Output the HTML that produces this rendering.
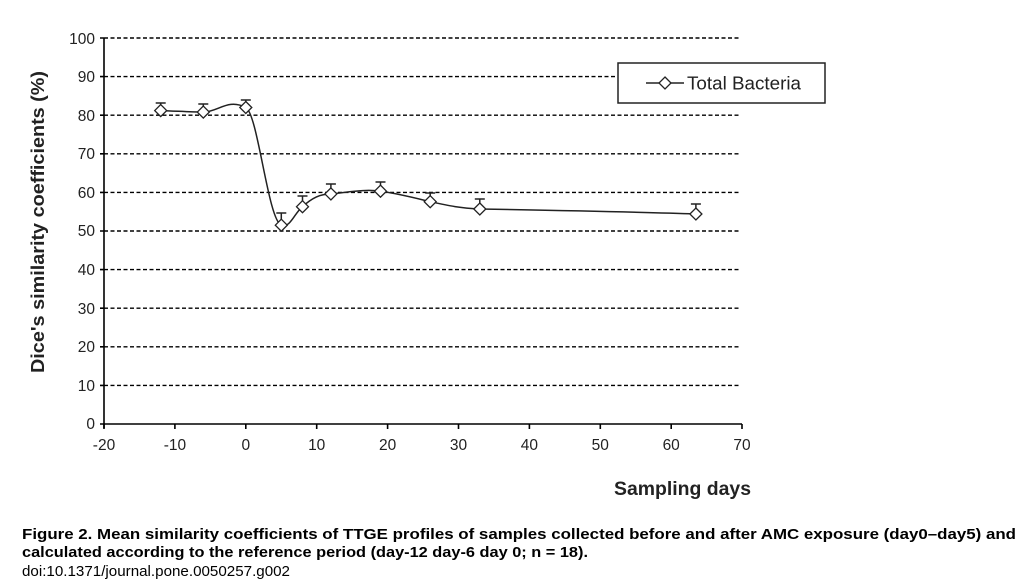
<!DOCTYPE html>
<html><head><meta charset="utf-8"><style>
html,body{margin:0;padding:0;background:#fff;}
svg{display:block;}
</style></head><body>
<svg width="1036" height="586" viewBox="0 0 1036 586" xmlns="http://www.w3.org/2000/svg" font-family="Liberation Sans, sans-serif">
<rect width="1036" height="586" fill="#fff"/>
<g stroke="#000" stroke-width="1.4" stroke-dasharray="4,2.5">
<line x1="104" y1="38" x2="740" y2="38"/>
<line x1="104" y1="76.6" x2="740" y2="76.6"/>
<line x1="104" y1="115.2" x2="740" y2="115.2"/>
<line x1="104" y1="153.8" x2="740" y2="153.8"/>
<line x1="104" y1="192.4" x2="740" y2="192.4"/>
<line x1="104" y1="231" x2="740" y2="231"/>
<line x1="104" y1="269.6" x2="740" y2="269.6"/>
<line x1="104" y1="308.2" x2="740" y2="308.2"/>
<line x1="104" y1="346.8" x2="740" y2="346.8"/>
<line x1="104" y1="385.4" x2="740" y2="385.4"/>
</g>
<g stroke="#000" stroke-width="1.6" fill="none">
<line x1="104" y1="38" x2="104" y2="428"/>
<line x1="100" y1="424" x2="742" y2="424"/>
<path d="M100 38h4M100 76.6h4M100 115.2h4M100 153.8h4M100 192.4h4M100 231h4M100 269.6h4M100 308.2h4M100 346.8h4M100 385.4h4"/>
<path d="M104 424v5M174.9 424v5M245.8 424v5M316.7 424v5M387.6 424v5M458.5 424v5M529.4 424v5M600.3 424v5M671.2 424v5M742 424v5"/>
</g>
<g font-size="15.5" fill="#222" text-anchor="end">
<text x="95" y="44">100</text><text x="95" y="82">90</text><text x="95" y="121">80</text>
<text x="95" y="159">70</text><text x="95" y="198">60</text><text x="95" y="236">50</text>
<text x="95" y="275">40</text><text x="95" y="314">30</text><text x="95" y="352">20</text>
<text x="95" y="391">10</text><text x="95" y="429">0</text>
</g>
<g font-size="15.5" fill="#222" text-anchor="middle">
<text x="104" y="450">-20</text><text x="174.9" y="450">-10</text><text x="245.8" y="450">0</text>
<text x="316.7" y="450">10</text><text x="387.6" y="450">20</text><text x="458.5" y="450">30</text>
<text x="529.4" y="450">40</text><text x="600.3" y="450">50</text><text x="671.2" y="450">60</text>
<text x="742" y="450">70</text>
</g>
<text x="614" y="495" font-size="19" font-weight="bold" fill="#222" textLength="137" lengthAdjust="spacingAndGlyphs">Sampling days</text>
<text transform="translate(44,373) rotate(-90)" font-size="18.5" font-weight="bold" fill="#222" textLength="302" lengthAdjust="spacingAndGlyphs">Dice's similarity coefficients  (%)</text>
<g stroke="#222" stroke-width="1.5" fill="none">
<path d="M160.7,110.6 C175,111 190,112 203.3,112.1 C218,112 228,98 245.8,107.5 C258,114 268,220 281.3,225.2 C290,229 295,212 302.5,206.7 C312,198 320,194 330.9,193.9 C350,192 365,189 380.5,191.2 C400,194 415,198 430.2,201.7 C450,206 460,208 479.8,209 C560,210.5 640,212 695.9,214"/>
<path d="M160.7,110.6V103M155.7,103h10 M203.3,112.1V104M198.3,104h10 M245.8,107.5V100M240.8,100h10 M281.3,225.2V213M276.3,213h10 M302.5,206.7V196M297.5,196h10 M330.9,193.9V184M325.9,184h10 M380.5,191.2V182M375.5,182h10 M430.2,201.7V193M425.2,193h10 M479.8,209V199M474.8,199h10 M695.9,214V204M690.9,204h10"/>
</g>
<g stroke="#222" stroke-width="1.3" fill="#fff">
<path d="M160.7,104.6l6,6l-6,6l-6,-6z"/>
<path d="M203.3,106.1l6,6l-6,6l-6,-6z"/>
<path d="M245.8,101.5l6,6l-6,6l-6,-6z"/>
<path d="M281.3,219.2l6,6l-6,6l-6,-6z"/>
<path d="M302.5,200.7l6,6l-6,6l-6,-6z"/>
<path d="M330.9,187.9l6,6l-6,6l-6,-6z"/>
<path d="M380.5,185.2l6,6l-6,6l-6,-6z"/>
<path d="M430.2,195.7l6,6l-6,6l-6,-6z"/>
<path d="M479.8,203l6,6l-6,6l-6,-6z"/>
<path d="M695.9,208l6,6l-6,6l-6,-6z"/>
</g>
<rect x="618" y="63" width="207" height="40" fill="#fff" stroke="#222" stroke-width="1.5"/>
<line x1="646" y1="83" x2="684" y2="83" stroke="#222" stroke-width="1.5"/>
<path d="M665,77l6,6l-6,6l-6,-6z" fill="#fff" stroke="#222" stroke-width="1.3"/>
<text x="687" y="89.5" font-size="18" fill="#222" textLength="114" lengthAdjust="spacingAndGlyphs">Total Bacteria</text>
<g font-weight="bold" font-size="15" fill="#000">
<text x="22" y="539" textLength="994" lengthAdjust="spacingAndGlyphs">Figure 2. Mean similarity coefficients of TTGE profiles of samples collected before and after AMC exposure (day0–day5) and</text>
<text x="22" y="557" textLength="566" lengthAdjust="spacingAndGlyphs">calculated according to the reference period (day-12 day-6 day 0; n = 18).</text>
</g>
<text x="22" y="576" font-size="14.5" fill="#000" textLength="268" lengthAdjust="spacingAndGlyphs">doi:10.1371/journal.pone.0050257.g002</text>
</svg>
</body></html>
